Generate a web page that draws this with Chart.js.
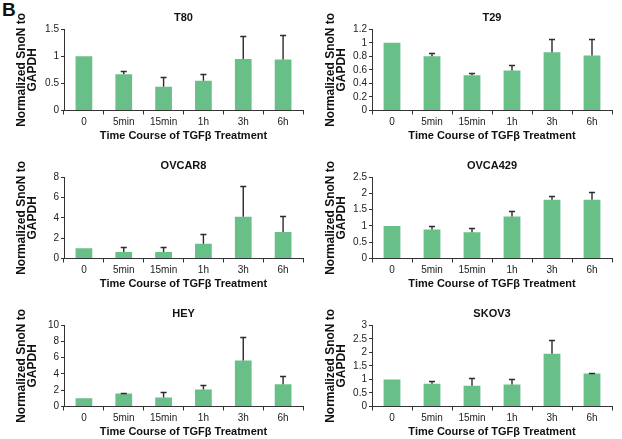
<!DOCTYPE html>
<html>
<head>
<meta charset="utf-8">
<script src="https://cdn.jsdelivr.net/npm/chart.js@4"></script>
<style>
  html, body { margin: 0; padding: 0; background: #fff; overflow: hidden; }
  #wrap { position: relative; width: 622px; height: 439px; }
  #wrap canvas { position: absolute; }
  #label { position: absolute; left: 2px; top: -1px; font: bold 19px "Liberation Sans", Arial, sans-serif; color: #111; }
</style>
</head>
<body>
<div id="wrap">
  <div id="label">B</div>
  <canvas id="c0" width="311" height="143" style="left:0;top:0"></canvas>
  <canvas id="c1" width="311" height="143" style="left:311px;top:0"></canvas>
  <canvas id="c2" width="311" height="143" style="left:0;top:148px"></canvas>
  <canvas id="c3" width="311" height="143" style="left:311px;top:148px"></canvas>
  <canvas id="c4" width="311" height="143" style="left:0;top:296px"></canvas>
  <canvas id="c5" width="311" height="143" style="left:311px;top:296px"></canvas>
</div>
<script>
const categories = ["0", "5min", "15min", "1h", "3h", "6h"];

const t80Mean = [1, 0.67, 0.44, 0.55, 0.95, 0.94];
const t80Err = [0, 0.05, 0.17, 0.12, 0.43, 0.45];
const t29Mean = [1, 0.80, 0.52, 0.59, 0.86, 0.81];
const t29Err = [0, 0.05, 0.04, 0.08, 0.19, 0.24];
const ovcar8Mean = [1, 0.65, 0.65, 1.44, 4.12, 2.61];
const ovcar8Err = [0, 0.45, 0.53, 0.95, 2.97, 1.54];
const ovca429Mean = [1, 0.89, 0.81, 1.29, 1.81, 1.81];
const ovca429Err = [0, 0.10, 0.12, 0.16, 0.12, 0.25];
const heyMean = [1, 1.59, 1.10, 2.08, 5.67, 2.73];
const heyErr = [0, 0.12, 0.66, 0.53, 2.90, 0.98];
const skov3Mean = [1, 0.84, 0.77, 0.81, 1.95, 1.22];
const skov3Err = [0, 0.09, 0.28, 0.22, 0.50, 0.01];

const panels = [
  { id: "c0", title: "T80", mean: t80Mean, err: t80Err, max: 1.5, step: 0.5, right: false },
  { id: "c1", title: "T29", mean: t29Mean, err: t29Err, max: 1.2, step: 0.2, right: true },
  { id: "c2", title: "OVCAR8", mean: ovcar8Mean, err: ovcar8Err, max: 8, step: 2, right: false },
  { id: "c3", title: "OVCA429", mean: ovca429Mean, err: ovca429Err, max: 2.5, step: 0.5, right: true },
  { id: "c4", title: "HEY", mean: heyMean, err: heyErr, max: 10, step: 2, right: false },
  { id: "c5", title: "SKOV3", mean: skov3Mean, err: skov3Err, max: 3, step: 0.5, right: true },
];

const FONT = "'Liberation Sans', Arial, sans-serif";
const AXIS = "#333";

// draws the upper half of the error bars, above each bar
const errorBars = {
  id: "errorBars",
  afterDatasetsDraw(chart) {
    const ctx = chart.ctx;
    const ds = chart.data.datasets[0];
    const y = chart.scales.y;
    ctx.save();
    ctx.strokeStyle = "#2b2b2b";
    ctx.lineWidth = 1.4;
    chart.getDatasetMeta(0).data.forEach((bar, i) => {
      const e = ds.errors[i];
      if (!e) return;
      const top = Math.round(y.getPixelForValue(ds.data[i] + e)) + 0.5;
      ctx.beginPath();
      ctx.moveTo(bar.x, bar.y);
      ctx.lineTo(bar.x, top);
      ctx.moveTo(bar.x - 3, top);
      ctx.lineTo(bar.x + 3, top);
      ctx.stroke();
    });
    ctx.restore();
  }
};

const make_chart = (p) => {
  const axisWidth = p.right ? 61 : 64;
  return new Chart(document.getElementById(p.id), {
    type: "bar",
    data: {
      labels: categories,
      datasets: [{
        data: p.mean,
        errors: p.err,
        backgroundColor: "#68bf87",
        borderWidth: 0,
        categoryPercentage: 1,
        barPercentage: 0.42
      }]
    },
    options: {
      responsive: false,
      animation: false,
      devicePixelRatio: 1,
      layout: { padding: { left: 0, right: p.right ? 10 : 8, top: 0, bottom: 0 } },
      plugins: {
        legend: { display: false },
        tooltip: { enabled: false },
        title: {
          display: true,
          text: p.title,
          fullSize: false,
          color: "#111",
          font: { family: FONT, size: 11, weight: "bold" },
          padding: { top: 11, bottom: 5 }
        }
      },
      scales: {
        x: {
          offset: true,
          grid: { display: true, drawOnChartArea: false, drawTicks: true, tickLength: 4, color: AXIS, offset: true },
          border: { display: true, color: AXIS, width: 1 },
          ticks: { color: "#222", padding: 2, font: { family: FONT, size: 10 }, maxRotation: 0, autoSkip: false },
          title: {
            display: true,
            text: "Time Course of TGFβ Treatment",
            color: "#111",
            font: { family: FONT, size: 11, weight: "bold" },
            padding: { top: 0, bottom: 0 }
          },
          afterFit: (s) => { s.height = 32.5; }
        },
        y: {
          min: 0,
          max: p.max,
          grid: { display: true, drawOnChartArea: false, drawTicks: true, tickLength: 3, color: AXIS },
          border: { display: true, color: AXIS, width: 1 },
          ticks: {
            stepSize: p.step,
            autoSkip: false,
            color: "#222",
            padding: 2,
            font: { family: FONT, size: 10 },
            callback: (v) => String(Math.round(v * 100) / 100)
          },
          title: {
            display: true,
            text: ["Normalized SnoN to", "GAPDH"],
            color: "#111",
            font: { family: FONT, size: 12, weight: "bold", lineHeight: 0.92 },
            padding: { top: p.right ? 14 : 16, bottom: 0 }
          },
          afterFit: (s) => { s.width = axisWidth; }
        }
      }
    },
    plugins: [errorBars]
  });
};

panels.forEach(make_chart);
</script>
</body>
</html>
